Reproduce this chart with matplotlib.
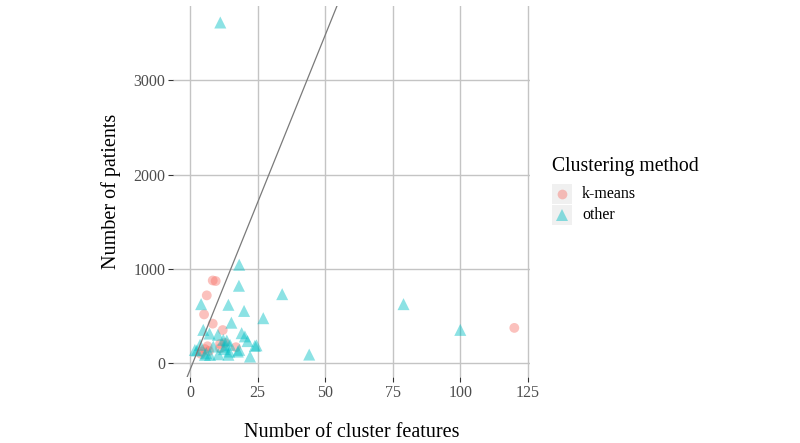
import matplotlib
matplotlib.use("Agg")
import matplotlib.pyplot as plt
from matplotlib.lines import Line2D
from matplotlib.patches import Rectangle

plt.rcParams['font.family'] = ['Liberation Serif', 'DejaVu Serif']

# ---- data ----
kmeans_features = [8.4, 9.5, 6.2, 5.2, 8.4, 12.1, 120, 17, 11.1, 6.5, 4.3, 5.5, 11.1, 12.9, 4.0, 7.0]
kmeans_patients = [878, 872, 720, 518, 420, 352, 375, 170, 205, 180, 124, 150, 160, 215, 100, 130]

other_features = [11.2, 18.2, 18.1, 34.1, 79, 100, 44.1, 4.1, 14.2, 20, 27.1, 15.3, 4.9, 7.2,
                  10.3, 19.1, 20.3, 21.3, 12.3, 13.6, 24, 24.6, 18.2, 22.2, 14.2, 2.5, 1.8,
                  5.5, 8.6, 7.4, 10.5, 12.9, 14.8, 14.5, 17.7, 12.6, 3.7, 6.0]
other_patients = [3615, 1045, 822, 733, 627, 354, 92, 627, 620, 555, 478, 430, 354, 315,
                  301, 319, 285, 235, 248, 240, 185, 190, 142, 71, 90, 135, 141,
                  89, 177, 88, 95, 177, 195, 124, 124, 150, 195, 105]

ref_slope = 71
ref_intercept = -70

x_ticks = [0, 25, 50, 75, 100, 125]
y_ticks = [0, 1000, 2000, 3000]

legend_title = "Clustering method"
legend_labels = ["k-means", "other"]
red = "#F8766D"
teal = "#00BFC4"

# ---- figure ----
fig = plt.figure(figsize=(8, 4.43), dpi=100)
ax = fig.add_axes([173/800, 1-377/443, (530-173)/800, (377-6)/443])

ax.set_facecolor("white")
for s in ax.spines.values():
    s.set_visible(False)
ax.grid(True, color="#c4c4c4", linewidth=1.0)
ax.set_axisbelow(True)

ax.scatter(kmeans_features, kmeans_patients, s=50, marker='o', color=red, alpha=0.45,
           edgecolors='none', zorder=3)
ax.scatter(other_features, other_patients, s=75, marker='^', color=teal, alpha=0.45,
           edgecolors='none', zorder=3)

ax.axline((0, ref_intercept), slope=ref_slope, color="#7a7a7a", linewidth=0.9, zorder=4)

ax.set_xlim(-6.3, 125.8)
ax.set_ylim(-146, 3790)
ax.set_xticks(x_ticks)
ax.set_yticks(y_ticks)
ax.tick_params(axis='both', length=3.5, width=0.8, color="#333333", labelcolor="#4d4d4d",
               labelsize=11.5, pad=2)

ax.set_xlabel("Number of cluster features", fontsize=14.5, labelpad=16)
ax.set_ylabel("Number of patients", fontsize=14.5, labelpad=9)

# ---- legend (manual, ggplot style) ----
fig.text(552/800, 1-166/443, legend_title, fontsize=14.2, va='center', ha='left')
key_centers = [194, 215]
for yc, lab, col, mk, ms in zip(key_centers, legend_labels, [red, teal], ['o', '^'], [7, 8.5]):
    fig.add_artist(Rectangle((552/800, 1-(yc+10)/443), 20/800, 20/443,
                             transform=fig.transFigure, facecolor="#f0f0f0",
                             edgecolor='none'))
    fig.add_artist(Line2D([562/800], [1-yc/443], marker=mk, markersize=ms, color=col,
                          alpha=0.45, markeredgewidth=0, linestyle='none',
                          transform=fig.transFigure))
    fig.text(582/800, 1-yc/443, lab, fontsize=11.5, va='center', ha='left')

fig.savefig("out.png", dpi=100)
